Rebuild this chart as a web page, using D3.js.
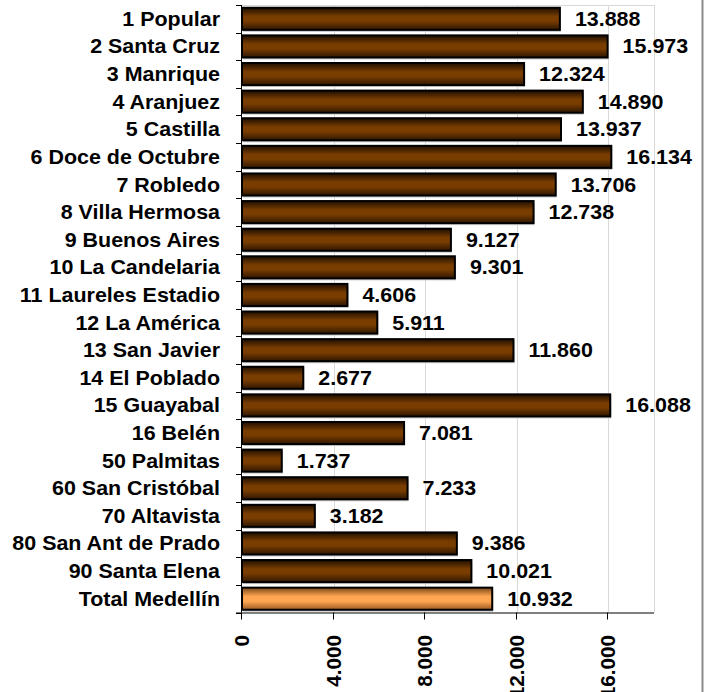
<!DOCTYPE html>
<html>
<head>
	<meta http-equiv="Content-Type" content="text/html;charset=utf-8">
	<script type="text/javascript" src="https://d3js.org/d3.v7.min.js"></script>
	<style type="text/css">
		body { margin: 0; background: white; overflow: hidden; }
		svg { display: block; }
		text { font-family: Arial, "Liberation Sans", sans-serif; font-weight: bold; font-size: 19.5px; fill: black; }
		.grid line { stroke: #d9d9d9; stroke-width: 1; }
	</style>
</head>
<body>
<div id="chart"></div>
<script type="text/javascript">
	// data
	var comunas = ["1 Popular", "2 Santa Cruz", "3 Manrique", "4 Aranjuez", "5 Castilla",
		"6 Doce de Octubre", "7 Robledo", "8 Villa Hermosa", "9 Buenos Aires", "10 La Candelaria",
		"11 Laureles Estadio", "12 La América", "13 San Javier", "14 El Poblado", "15 Guayabal",
		"16 Belén", "50 Palmitas", "60 San Cristóbal", "70 Altavista", "80 San Ant de Prado",
		"90 Santa Elena", "Total Medellín"];
	var valores = [13888, 15973, 12324, 14890, 13937, 16134, 13706, 12738, 9127, 9301,
		4606, 5911, 11860, 2677, 16088, 7081, 1737, 7233, 3182, 9386, 10021, 10932];
	var xTicks = [0, 4000, 8000, 12000, 16000];

	var W = 709, H = 692;
	var pLeft = 242, pRight = 654, pTop = 5, pBottom = 612.5;
	var stretch = 1.1; // the text in the picture is a little wide

	// "." as thousands separator
	var fmt = function(v) { return d3.format(",")(v).replace(/,/g, "."); };

	var svg = d3.select("#chart").append("svg")
		.attr("width", W).attr("height", H);

	var defs = svg.append("defs");
	var gBrown = defs.append("linearGradient").attr("id", "gBrown")
		.attr("x1", 0).attr("y1", 0).attr("x2", 0).attr("y2", 1);
	gBrown.append("stop").attr("offset", "0%").attr("stop-color", "#1e0e00");
	gBrown.append("stop").attr("offset", "40%").attr("stop-color", "#7a3d00");
	gBrown.append("stop").attr("offset", "60%").attr("stop-color", "#7a3d00");
	gBrown.append("stop").attr("offset", "100%").attr("stop-color", "#2e1600");
	var gTotal = defs.append("linearGradient").attr("id", "gTotal")
		.attr("x1", 0).attr("y1", 0).attr("x2", 0).attr("y2", 1);
	gTotal.append("stop").attr("offset", "0%").attr("stop-color", "#7a4618");
	gTotal.append("stop").attr("offset", "40%").attr("stop-color", "#ffa652");
	gTotal.append("stop").attr("offset", "62%").attr("stop-color", "#ffa652");
	gTotal.append("stop").attr("offset", "100%").attr("stop-color", "#9c5a22");

	var x = d3.scaleLinear().domain([0, 18000]).range([pLeft, pRight]);
	var y = d3.scaleBand().domain(comunas).range([pTop, pBottom]).paddingInner(0.2).paddingOuter(0.1);

	// outer frame (only the right edge is inside the picture)
	svg.append("line")
		.attr("x1", 702.5).attr("x2", 702.5).attr("y1", 0).attr("y2", H)
		.attr("stroke", "#8c8c8c").attr("stroke-width", 2);

	// gridlines and plot border
	var grid = svg.append("g").attr("class", "grid");
	grid.selectAll("line.v").data(xTicks.slice(1).concat([18000]))
		.enter().append("line")
		.attr("x1", function(d) { return Math.round(x(d)) + 0.5; })
		.attr("x2", function(d) { return Math.round(x(d)) + 0.5; })
		.attr("y1", pTop).attr("y2", pBottom);
	grid.append("line")
		.attr("x1", pLeft).attr("x2", pRight + 0.5).attr("y1", pTop + 0.5).attr("y2", pTop + 0.5);

	// bars
	var bars = svg.append("g");
	bars.selectAll("rect.shadow").data(valores).enter().append("rect")
		.attr("x", x(0) + 1)
		.attr("y", function(d, i) { return y(comunas[i]) + 2; })
		.attr("width", function(d) { return x(d) - x(0); })
		.attr("height", y.bandwidth())
		.attr("fill", "#c8c8c8");
	bars.selectAll("rect.bar").data(valores).enter().append("rect")
		.attr("x", x(0))
		.attr("y", function(d, i) { return y(comunas[i]); })
		.attr("width", function(d) { return x(d) - x(0); })
		.attr("height", y.bandwidth())
		.attr("fill", function(d, i) { return i == comunas.length - 1 ? "url(#gTotal)" : "url(#gBrown)"; })
		.attr("stroke", "black")
		.attr("stroke-width", 2);

	// value labels
	svg.append("g").selectAll("text").data(valores).enter().append("text")
		.attr("transform", function(d, i) {
			return "translate(" + (x(d) + 15) + "," + (y(comunas[i]) + y.bandwidth() / 2) + ") scale(" + stretch + ",1)";
		})
		.attr("dy", "0.36em")
		.text(fmt);

	// y axis
	var yAxis = svg.append("g");
	yAxis.append("line")
		.attr("x1", pLeft - 0.5).attr("x2", pLeft - 0.5).attr("y1", pTop).attr("y2", pBottom)
		.attr("stroke", "black");
	yAxis.selectAll("line.tick").data(d3.range(comunas.length + 1)).enter().append("line")
		.attr("x1", pLeft - 6).attr("x2", pLeft)
		.attr("y1", function(i) { return Math.round(pTop + i * (pBottom - pTop) / comunas.length) + 0.5; })
		.attr("y2", function(i) { return Math.round(pTop + i * (pBottom - pTop) / comunas.length) + 0.5; })
		.attr("stroke", "black");
	yAxis.selectAll("text").data(comunas).enter().append("text")
		.attr("transform", function(d) {
			return "translate(220," + (y(d) + y.bandwidth() / 2) + ") scale(" + stretch + ",1)";
		})
		.attr("dy", "0.36em")
		.attr("text-anchor", "end")
		.text(function(d) { return d; });

	// x axis
	var xAxis = svg.append("g");
	xAxis.append("line")
		.attr("x1", pLeft - 6).attr("x2", pRight).attr("y1", pBottom + 0.5).attr("y2", pBottom + 0.5)
		.attr("stroke", "black");
	xAxis.selectAll("line.tick").data(xTicks).enter().append("line")
		.attr("x1", function(d) { return Math.round(x(d)) - 0.5; })
		.attr("x2", function(d) { return Math.round(x(d)) - 0.5; })
		.attr("y1", pBottom).attr("y2", pBottom + 7)
		.attr("stroke", "black");
	xAxis.selectAll("text").data(xTicks).enter().append("text")
		.attr("transform", function(d) { return "translate(" + x(d) + ",635) rotate(-90) scale(1.06,1)"; })
		.attr("dy", "0.36em")
		.attr("text-anchor", "end")
		.text(fmt);
</script>
</body>
</html>
